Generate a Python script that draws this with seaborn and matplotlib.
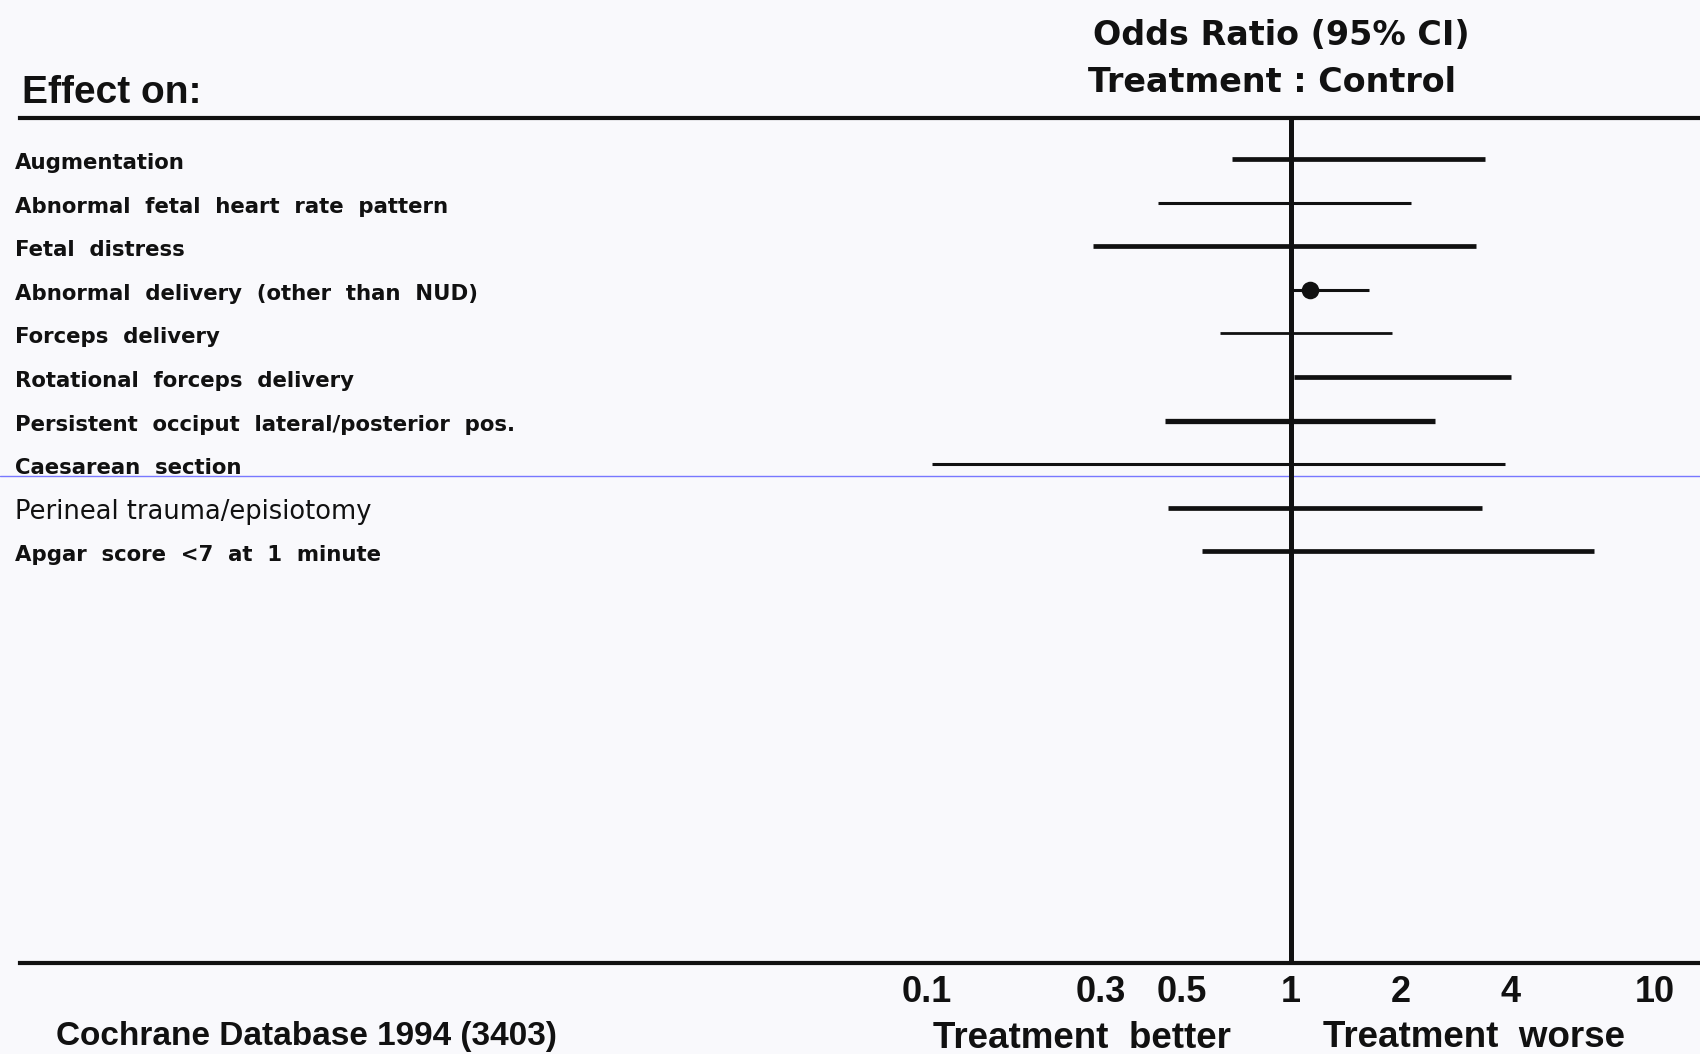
import numpy as np
import pandas as pd
import matplotlib
matplotlib.use("Agg")
import matplotlib.pyplot as plt
import matplotlib.transforms as mtransforms
from matplotlib.ticker import NullLocator
import seaborn as sns

# ---- data -------------------------------------------------------------
outcomes = [
    "Augmentation",
    "Abnormal  fetal  heart  rate  pattern",
    "Fetal  distress",
    "Abnormal  delivery  (other  than  NUD)",
    "Forceps  delivery",
    "Rotational  forceps  delivery",
    "Persistent  occiput  lateral/posterior  pos.",
    "Caesarean  section",
    "Perineal trauma/episiotomy",
    "Apgar  score  <7  at  1  minute",
]
ci_lower = [0.69, 0.43, 0.285, 1.00, 0.64, 1.02, 0.45, 0.103, 0.46, 0.57]
ci_upper = [3.42, 2.13, 3.23, 1.64, 1.90, 4.03, 2.48, 3.88, 3.34, 6.81]
point_estimate = [np.nan, np.nan, np.nan, 1.13, np.nan,
                  np.nan, np.nan, np.nan, np.nan, np.nan]

x_ticks = [0.1, 0.3, 0.5, 1, 2, 4, 10]
x_tick_labels = ["0.1", "0.3", "0.5", "1", "2", "4", "10"]

# ---- styling ------------------------------------------------------------
row_linewidths = [3.4, 2.2, 3.4, 2.2, 2.0, 3.4, 3.8, 2.2, 3.4, 3.4]
W, H, DPI = 1700, 1054, 100
BG = "#f9f9fc"
INK = "#111111"

sns.set_theme(style="white")
plt.rcParams["font.family"] = ["DejaVu Sans"]


def fx(px):
    return px / W


def fy(py):
    return 1 - py / H


fig = plt.figure(figsize=(W / DPI, H / DPI), dpi=DPI, facecolor=BG)

# plot panel between the two horizontal rules
ax_left, ax_right, ax_top, ax_bottom = 20, 1700, 118, 963
ax = fig.add_axes([fx(ax_left), fy(ax_bottom),
                   fx(ax_right) - fx(ax_left), fy(ax_top) - fy(ax_bottom)])
ax.set_facecolor(BG)
ax.set_xscale("log")

df = pd.DataFrame({
    "outcome": outcomes,
    "row": np.arange(len(outcomes)),
    "lower": ci_lower,
    "upper": ci_upper,
    "estimate": point_estimate,
})
ci_long = df.melt(id_vars=["outcome", "row"], value_vars=["lower", "upper"],
                  value_name="odds_ratio")

# confidence interval segments
sns.lineplot(data=ci_long, x="odds_ratio", y="row", units="outcome",
             estimator=None, size="outcome",
             sizes=dict(zip(outcomes, row_linewidths)),
             color=INK, legend=False, ax=ax, solid_capstyle="butt")

# point estimates
sns.scatterplot(data=df.dropna(subset=["estimate"]), x="estimate", y="row",
                marker="o", s=160, color=INK, edgecolor=INK, linewidth=0,
                legend=False, ax=ax, zorder=5)

# line of no effect
ax.axvline(1, color=INK, lw=3.6, zorder=4)

# scale: odds ratio 1 at x=1291 px, 364 px per decade
one_px, decade_px = 1291, 364
ax.set_xlim(10 ** ((ax_left - one_px) / decade_px),
            10 ** ((ax_right - one_px) / decade_px))
row_top_px, row_step_px = 159, 43.6
ax.set_ylim((ax_bottom - row_top_px) / row_step_px,
            (ax_top - row_top_px) / row_step_px)

# separator under the first block of outcomes
ax.axhline(7.27, xmin=-ax_left / (ax_right - ax_left), xmax=1,
           color="#7878ff", lw=1.0, clip_on=False, zorder=1)

for side in ["left", "right"]:
    ax.spines[side].set_visible(False)
for side in ["top", "bottom"]:
    ax.spines[side].set_visible(True)
    ax.spines[side].set_linewidth(3.0)
    ax.spines[side].set_color(INK)

ax.set_xticks(x_ticks)
ax.set_xticklabels(x_tick_labels)
ax.xaxis.set_minor_locator(NullLocator())
ax.tick_params(axis="x", length=0, pad=9)
for lbl in ax.get_xticklabels():
    lbl.set_fontfamily("Liberation Sans")
    lbl.set_fontweight("bold")
    lbl.set_fontsize(26)
    lbl.set_color(INK)
ax.set_yticks([])
ax.set_xlabel("")
ax.set_ylabel("")

# outcome labels on the left
label_tf = mtransforms.blended_transform_factory(ax.transAxes, ax.transData) + \
    mtransforms.ScaledTranslation(-5 / DPI, -4 / DPI, fig.dpi_scale_trans)
for name, row in zip(df["outcome"], df["row"]):
    if name.startswith("Perineal"):
        kw = dict(fontsize=18.5, fontweight="normal")
    else:
        kw = dict(fontsize=15.3, fontweight="bold")
    ax.text(0, row, name, transform=label_tf, ha="left", va="center",
            color=INK, family="DejaVu Sans", clip_on=False, **kw)

# headers
fig.text(fx(22), fy(103), "Effect on:", ha="left", va="baseline",
         fontsize=28, fontweight="bold", family="Liberation Sans", color=INK)
fig.text(fx(1281), fy(45), "Odds Ratio (95% CI)", ha="center", va="baseline",
         fontsize=24, fontweight="bold", family="DejaVu Sans", color=INK)
fig.text(fx(1272), fy(92), "Treatment : Control", ha="center", va="baseline",
         fontsize=24, fontweight="bold", family="DejaVu Sans", color=INK)

# direction captions under the axis
fig.text(fx(1082), fy(1048), "Treatment  better", ha="center", va="baseline",
         fontsize=26.5, fontweight="bold", family="Liberation Sans", color=INK)
fig.text(fx(1474), fy(1047), "Treatment  worse", ha="center", va="baseline",
         fontsize=26.5, fontweight="bold", family="Liberation Sans", color=INK)

# source line
fig.text(fx(56), fy(1045), "Cochrane Database 1994 (3403)", ha="left",
         va="baseline", fontsize=24, fontweight="bold",
         family="Liberation Sans", color=INK)

fig.savefig("out.png", dpi=DPI, facecolor=BG)
